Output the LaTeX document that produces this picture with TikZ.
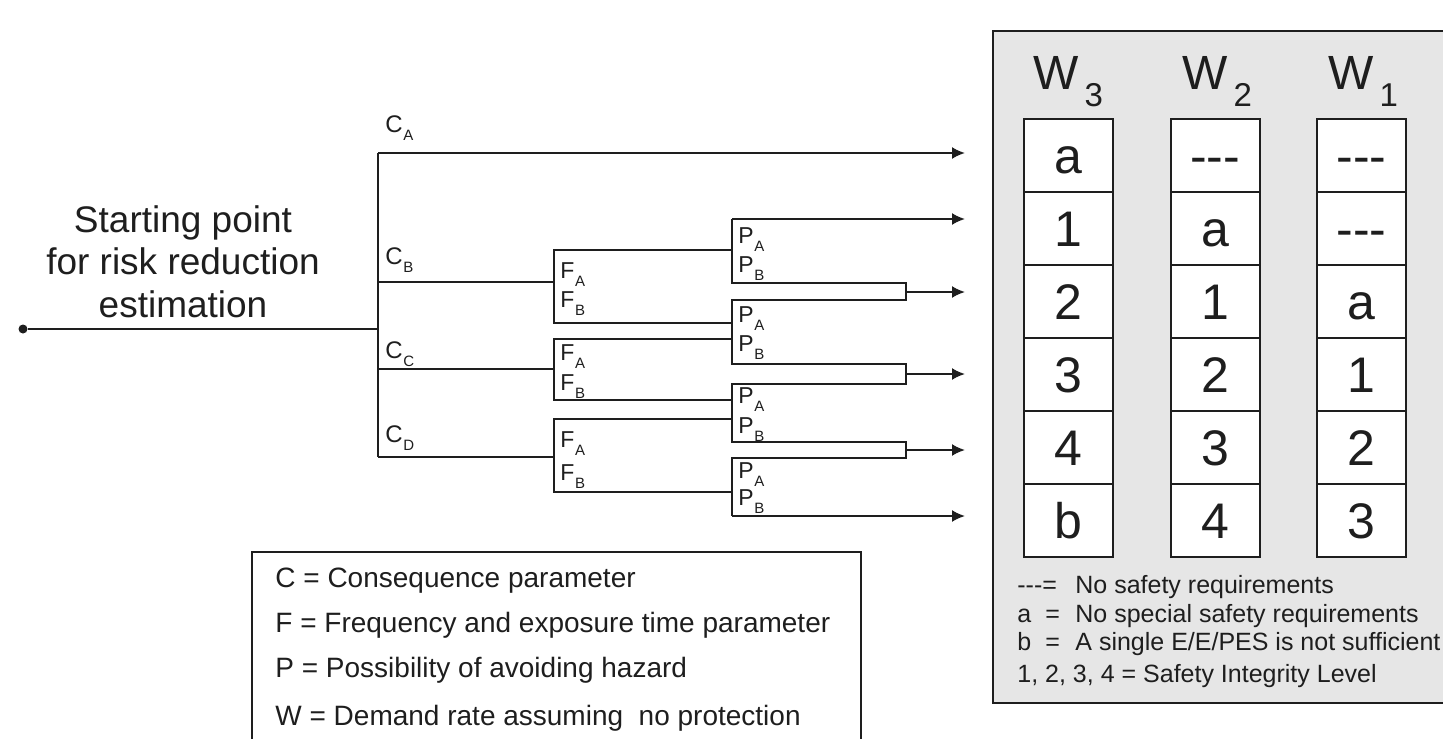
\documentclass[tikz,border=0pt]{standalone}
\usepackage{fontspec}
\setmainfont{Liberation Sans}
\usetikzlibrary{arrows.meta}
\definecolor{ink}{HTML}{1E1E1E}
\definecolor{panelgray}{HTML}{E6E6E6}
\newcommand{\sublab}[2]{#1\kern0.3pt\raisebox{-4pt}{\fontsize{7.5}{8}\selectfont #2}}
\newcommand{\wsub}[1]{\kern3pt\raisebox{-8.5pt}{\fontsize{16.5}{18}\selectfont #1}}
\newcommand{\tdash}{\mbox{-}\mbox{-}\mbox{-}}
\begin{document}
\begin{tikzpicture}[x=0.5pt,y=-0.5pt,
  tree/.style={draw=ink, line width=1pt},
  arr/.style={tree, -{Latex[length=6.5pt,width=6pt]}},
  dot/.style={circle, fill=ink, inner sep=0pt, minimum size=4.5pt},
  clab/.style={anchor=base west, inner sep=0pt, text=ink, font=\fontsize{12}{14}\selectfont},
  plab/.style={anchor=base west, inner sep=0pt, text=ink, font=\fontsize{11.5}{13}\selectfont},
  sttext/.style={anchor=base, inner sep=0pt, text=ink, font=\fontsize{18.5}{21}\selectfont},
  legtext/.style={anchor=base west, inner sep=0pt, text=ink, font=\fontsize{14}{16}\selectfont},
  keytext/.style={anchor=base west, inner sep=0pt, text=ink, font=\fontsize{12.5}{14}\selectfont},
  whead/.style={anchor=base west, inner sep=0pt, text=ink, font=\fontsize{24}{28}\selectfont},
  cell/.style={draw=ink, line width=1pt, fill=white, minimum width=44.5pt, minimum height=36.5pt,
    inner sep=0pt, text height=17.5pt, text depth=0pt, text=ink, font=\fontsize{25}{28}\selectfont},
  panel/.style={draw=ink, line width=1pt, fill=panelgray},
  keybox/.style={draw=ink, line width=1pt}
]
\useasboundingbox (0,0) rectangle (1443,738);

% ---------- right panel ----------
\draw[panel] (993,31) rectangle (1490,703);

\node[whead] (hw3) at (1033,90) {W\wsub{3}};
\node[whead] (hw2) at (1182,90) {W\wsub{2}};
\node[whead] (hw1) at (1328,90) {W\wsub{1}};

\foreach \t [count=\r] in {a,1,2,3,4,b}
  \node[cell] (wthree\r) at (1068,82.5+73*\r) {\t};
\foreach \t [count=\r] in {\tdash,a,1,2,3,4}
  \node[cell] (wtwo\r) at (1215,82.5+73*\r) {\t};
\foreach \t [count=\r] in {\tdash,\tdash,a,1,2,3}
  \node[cell] (wone\r) at (1361.5,82.5+73*\r) {\t};

\node[keytext] (k1) at (1017,593) {\makebox[14pt][l]{\tdash=}\makebox[15pt][l]{}No safety requirements};
\node[keytext] (k2) at (1017,622) {\makebox[14pt][l]{a}\makebox[15pt][l]{=}No special safety requirements};
\node[keytext] (k3) at (1017,650) {\makebox[14pt][l]{b}\makebox[15pt][l]{=}A single E/E/PES is not sufficient};
\node[keytext] (k4) at (1017,682) {1, 2, 3, 4 = Safety Integrity Level};

% ---------- lower-left legend ----------
\draw[keybox] (252,552) rectangle (861,770);
\node[legtext] (l1) at (275,587) {C = Consequence parameter};
\node[legtext] (l2) at (275,632) {F = Frequency and exposure time parameter};
\node[legtext] (l3) at (275,677) {P = Possibility of avoiding hazard};
\node[legtext] (l4) at (275,725) {W = Demand rate assuming\ \ no protection};

% ---------- starting point ----------
\node[sttext] (st1) at (183,232) {Starting point};
\node[sttext] (st2) at (183,274) {for risk reduction};
\node[sttext] (st3) at (183,317) {estimation};
\node[dot] (sp) at (23,329) {};

% ---------- tree coordinates ----------
\coordinate (cj) at (378,329);
\coordinate (ca) at (378,153);
\coordinate (cb) at (378,282);
\coordinate (cc) at (378,369);
\coordinate (cd) at (378,457);
% F brackets
\coordinate (fb) at (554,282);
\coordinate (fc) at (554,369);
\coordinate (fd) at (554,457);
% arrow tips
\coordinate (t1) at (965,153);
\coordinate (t2) at (965,219);
\coordinate (t3) at (965,292);
\coordinate (t4) at (965,374);
\coordinate (t5) at (965,450);
\coordinate (t6) at (965,516);
\coordinate (m3) at (906,292);
\coordinate (m4) at (906,374);
\coordinate (m5) at (906,450);

\draw[tree] (sp) -- (cj);
\draw[tree] (ca) -- (cd);
\draw[arr] (ca) -- (t1);
\draw[tree] (cb) -- (fb);
\draw[tree] (cc) -- (fc);
\draw[tree] (cd) -- (fd);

% F brackets
\draw[tree] (732,250) -| (554,323) -- (732,323);
\draw[tree] (732,339) -| (554,400) -- (732,400);
\draw[tree] (732,419) -| (554,492) -- (732,492);

% P brackets with merge loops
\draw[tree] (732,219) -- (732,283) -- (906,283) -- (906,300) -- (732,300)
  -- (732,364) -- (906,364) -- (906,384) -- (732,384)
  -- (732,442) -- (906,442) -- (906,458) -- (732,458) -- (732,516);
\draw[arr] (732,219) -- (t2);
\draw[arr] (m3) -- (t3);
\draw[arr] (m4) -- (t4);
\draw[arr] (m5) -- (t5);
\draw[arr] (732,516) -- (t6);

% ---------- labels ----------
\node[clab] (lca) at (385,132.5) {\sublab{C}{A}};
\node[clab] (lcb) at (385,264.5) {\sublab{C}{B}};
\node[clab] (lcc) at (385,358.5) {\sublab{C}{C}};
\node[clab] (lcd) at (385,442.5) {\sublab{C}{D}};

\node[plab] (f1a) at (560,278) {\sublab{F}{A}};
\node[plab] (f1b) at (560,307) {\sublab{F}{B}};
\node[plab] (f2a) at (560,360) {\sublab{F}{A}};
\node[plab] (f2b) at (560,390) {\sublab{F}{B}};
\node[plab] (f3a) at (560,447) {\sublab{F}{A}};
\node[plab] (f3b) at (560,480) {\sublab{F}{B}};

\node[plab] (p1a) at (738,243) {\sublab{P}{A}};
\node[plab] (p1b) at (738,272) {\sublab{P}{B}};
\node[plab] (p2a) at (738,322) {\sublab{P}{A}};
\node[plab] (p2b) at (738,351) {\sublab{P}{B}};
\node[plab] (p3a) at (738,403) {\sublab{P}{A}};
\node[plab] (p3b) at (738,433) {\sublab{P}{B}};
\node[plab] (p4a) at (738,478) {\sublab{P}{A}};
\node[plab] (p4b) at (738,505) {\sublab{P}{B}};
\end{tikzpicture}
\end{document}
